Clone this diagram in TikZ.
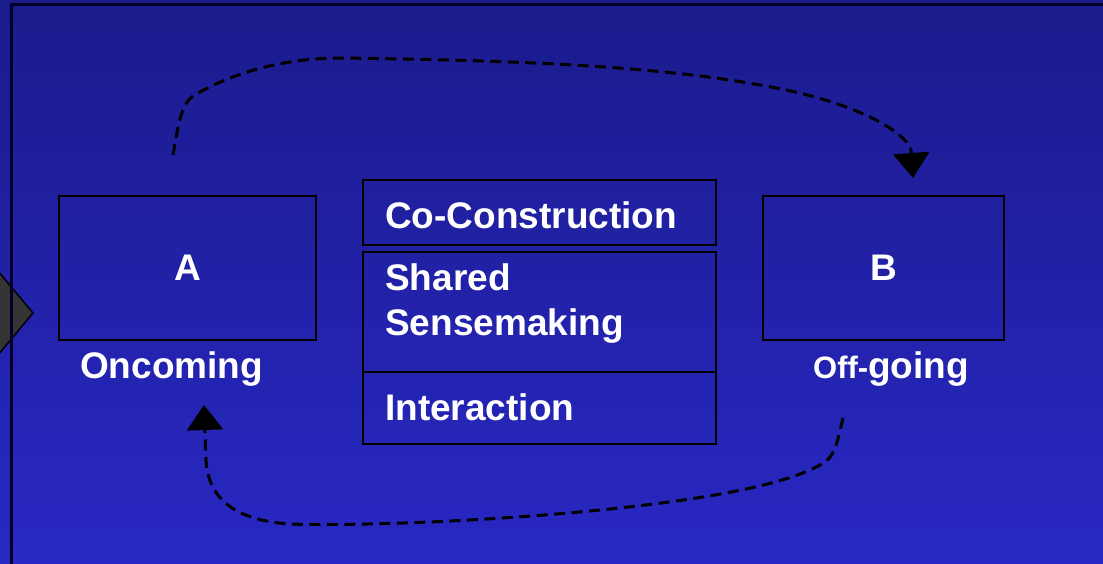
\documentclass[tikz,border=0pt]{standalone}
\usepackage{fontspec}
\setmainfont{Liberation Sans}
\usepackage{tikz}
\usetikzlibrary{arrows.meta,positioning}
\definecolor{bgtop}{RGB}{27,27,140}
\definecolor{bgbot}{RGB}{40,40,196}
\definecolor{rhomb}{RGB}{52,52,52}
\tikzset{
  actorbox/.style={ draw=black, line width=1.8pt, minimum height=144pt, inner sep=0pt,
    text=white, font=\fontsize{37}{44}\selectfont\bfseries }
}
\tikzset{
  layerbox/.style={ draw=black, line width=1.8pt, minimum width=353pt, inner sep=0pt }
}
\tikzset{
  lbl/.style={ text=white, inner sep=0pt, anchor=base west, font=\fontsize{37}{44}\selectfont\bfseries }
}
\tikzset{
  handover/.style={ draw=black, line width=3pt, dash pattern=on 11pt off 6.5pt,
    -{Triangle[width=36pt,length=25pt]} }
}

\begin{document}
\begin{tikzpicture}[x=1pt, y=-1pt]
      \useasboundingbox (0,0) rectangle (1103,563);
      \clip (0,0) rectangle (1103,563);
      \shade[top color=bgtop, bottom color=bgbot] (0,0) rectangle (1103,563);
      \filldraw[fill=rhomb, draw=black, line width=1.5pt]
        (33,313) -- (-7,265) -- (-47,313) -- (-7,361) -- cycle;
      \draw[line width=3pt, black!85!blue] (11,570) -- (11,4) -- (1110,4);
      % shift partners
      \node[actorbox, minimum width=257pt] (A) at (187.5, 268) {A};
      \node[actorbox, minimum width=241pt] (B) at (883.5, 268) {B};
      \node[lbl] (oncoming) at (80, 378) {Oncoming};
      \node[lbl] (offgoing) at (813, 378) {{\fontsize{31}{44}\selectfont Off-}going};
      % layers of the handover
      \node[layerbox, minimum height=65pt] (co) at (539.5, 212.5) {};
      \node[layerbox, minimum height=120pt] (shared) at (539.5, 312) {};
      \node[layerbox, minimum height=72pt] (inter) at (539.5, 408) {};
      \node[lbl] (coText) at (385, 228) {Co-Construction};
      \node[lbl] (sharedText) at (385, 290) {Shared};
      \node[lbl] (senseText) at (385, 335) {Sensemaking};
      \node[lbl] (interText) at (385, 420) {Interaction};
      % handover loops
      \coordinate (aout) at (173, 155);
      \coordinate (bin) at (913, 178);
      \coordinate (bout) at (843, 418);
      \coordinate (ain) at (204, 405);
      \draw[handover] (aout) .. controls (180,115) and (182,100) .. (200,92)
        .. controls (240,70) and (290,58) .. (340,58)
        .. controls (500,60) and (650,65) .. (760,85)
        .. controls (850,100) and (905,130) .. (911,150)
        -- (bin);
      \draw[handover] (bout) .. controls (838,440) and (835,455) .. (825,462)
        .. controls (790,485) and (700,500) .. (600,510)
        .. controls (480,522) and (350,526) .. (290,524)
        .. controls (230,520) and (208,495) .. (206,460)
        -- (ain);
    \end{tikzpicture}
\end{document}
